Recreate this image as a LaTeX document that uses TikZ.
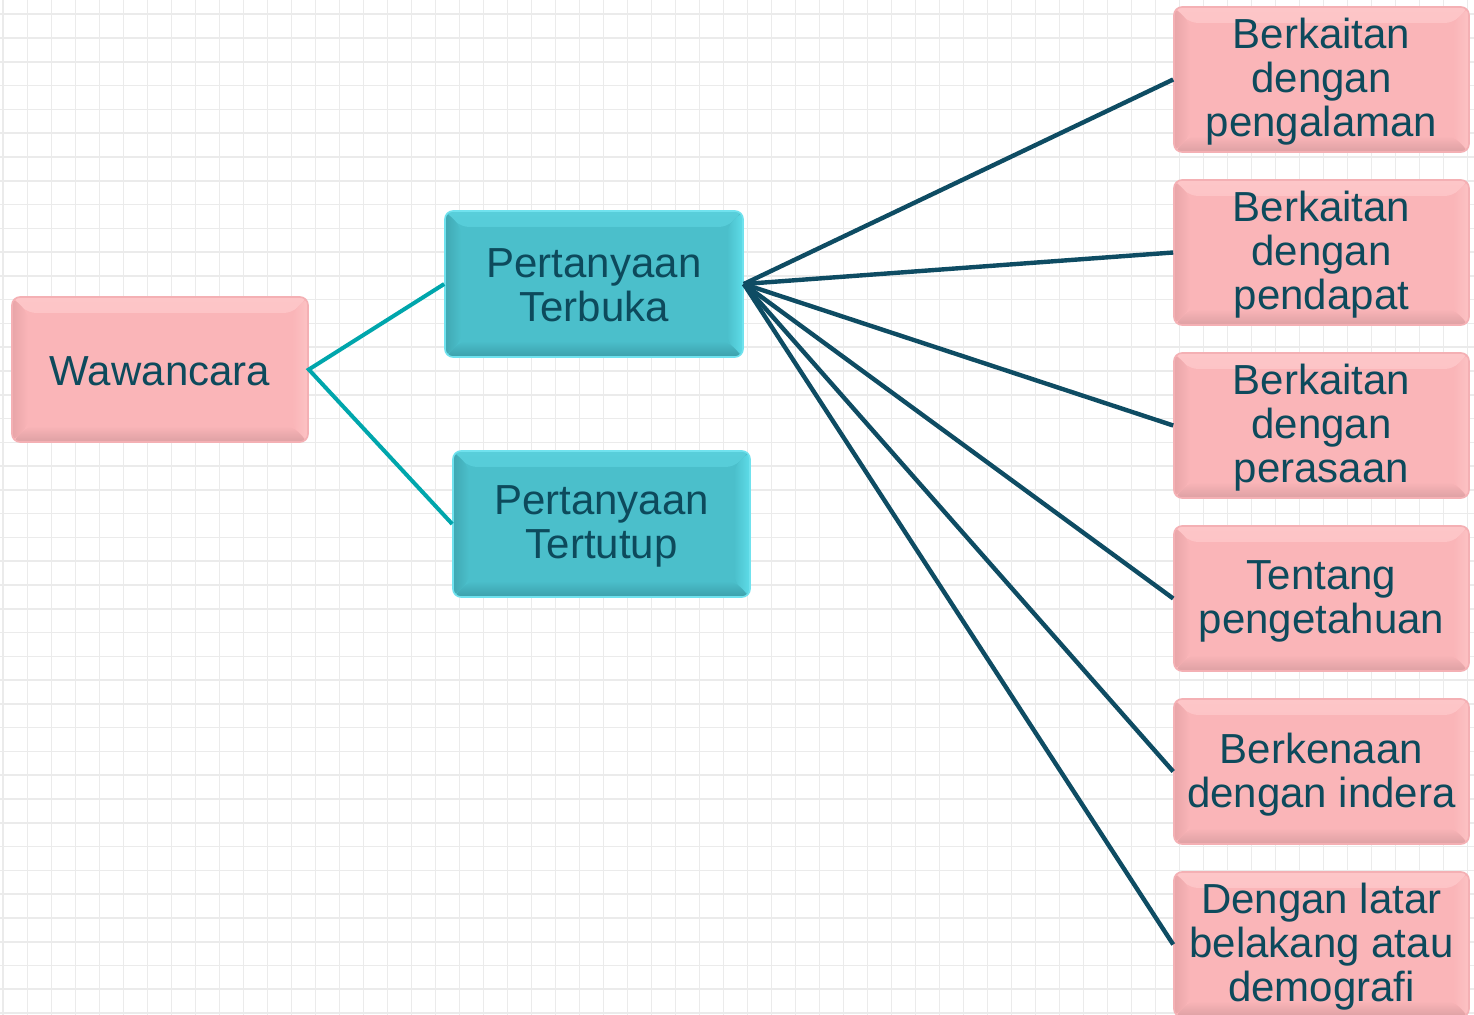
\documentclass[tikz,border=0pt]{standalone}
\usepackage{fontspec}
\setmainfont{Liberation Sans}
\definecolor{txt}{HTML}{0D4A5C}
\definecolor{pinkbase}{HTML}{FAB5B8}
\definecolor{pinktop}{HTML}{FDC6C8}
\definecolor{pinkright}{HTML}{FCC2C4}
\definecolor{pinkleft}{HTML}{E8A5A8}
\definecolor{pinkbot}{HTML}{DDA0A3}
\definecolor{pinkedge}{HTML}{F4B0B4}
\definecolor{tealbase}{HTML}{4BBFCB}
\definecolor{tealtop}{HTML}{58CEDA}
\definecolor{tealright}{HTML}{5EDCE8}
\definecolor{tealleft}{HTML}{40A8B3}
\definecolor{tealbot}{HTML}{3CA0AB}
\definecolor{tealedge}{HTML}{70E2EE}
\definecolor{linkteal}{HTML}{00A6AC}
\definecolor{linkdark}{HTML}{0E4C63}
\definecolor{gridc}{HTML}{EBEBEB}
\tikzset{
  bevel/.style n args={5}{path picture={
    \shade[top color=#1, bottom color=#5] (path picture bounding box.north west) -- (path picture bounding box.north east)
      -- ([shift={(-8pt,-8pt)}]path picture bounding box.north east) -- ([shift={(8pt,-8pt)}]path picture bounding box.north west) -- cycle;
    \shade[right color=#2, left color=#5] (path picture bounding box.north east) -- (path picture bounding box.south east)
      -- ([shift={(-8pt,8pt)}]path picture bounding box.south east) -- ([shift={(-8pt,-8pt)}]path picture bounding box.north east) -- cycle;
    \shade[bottom color=#3, top color=#5] (path picture bounding box.south west) -- (path picture bounding box.south east)
      -- ([shift={(-8pt,8pt)}]path picture bounding box.south east) -- ([shift={(8pt,8pt)}]path picture bounding box.south west) -- cycle;
    \shade[left color=#4, right color=#5] (path picture bounding box.north west) -- (path picture bounding box.south west)
      -- ([shift={(8pt,8pt)}]path picture bounding box.south west) -- ([shift={(8pt,-8pt)}]path picture bounding box.north west) -- cycle;
  }},
  boxbase/.style={rectangle, rounded corners=4pt, inner sep=0pt, align=center,
    text=txt, font=\fontsize{21pt}{22pt}\selectfont, line width=0.8pt},
  pinkbox/.style={boxbase, fill=pinkbase, draw=pinkedge,
    bevel={pinktop}{pinkright}{pinkbot}{pinkleft}{pinkbase}},
  tealbox/.style={boxbase, fill=tealbase, draw=tealedge,
    bevel={tealtop}{tealright}{tealbot}{tealleft}{tealbase}},
  gridline/.style={gridc, line width=0.8pt},
  tealink/.style={linkteal, line width=2pt},
  darklink/.style={linkdark, line width=2.2pt},
}
\begin{document}
\begin{tikzpicture}[x=0.5pt,y=-0.5pt]
\useasboundingbox (0,0) rectangle (1474,1015);
\fill[white] (0,0) rectangle (1474,1015);
\foreach \i in {0,...,61} \draw[gridline] ({3.3+24*\i},0) -- ({3.3+24*\i},1015);
\foreach \j in {0,...,42} \draw[gridline] (0,{14.3+23.78*\j}) -- (1474,{14.3+23.78*\j});

\node[pinkbox, minimum width=148pt, minimum height=72.5pt, text depth=0pt] (waw) at (160,369.5) {};
\node[text=txt, font=\fontsize{21pt}{22pt}\selectfont, align=center] (wawt) at (160,371) {Wawancara};
\node[tealbox, minimum width=149pt, minimum height=73pt] (terbuka) at (594,284) {};
\node[text=txt, font=\fontsize{21pt}{22pt}\selectfont, align=center] (terbukat) at (594,285.5) {Pertanyaan\\Terbuka};
\node[tealbox, minimum width=148.5pt, minimum height=73pt] (tertutup) at (601.5,524) {};
\node[text=txt, font=\fontsize{21pt}{22pt}\selectfont, align=center] (tertutupt) at (601.5,526) {Pertanyaan\\Tertutup};

\tikzset{rbox/.style={pinkbox, minimum width=147.5pt, minimum height=72.5pt},
  rtext/.style={text=txt, font=\fontsize{21pt}{22pt}\selectfont, align=center}}
\node[rbox] (r1) at (1321.5,79.5) {};
\node[rbox] (r2) at (1321.5,252.5) {};
\node[rbox] (r3) at (1321.5,425.5) {};
\node[rbox] (r4) at (1321.5,598.5) {};
\node[rbox] (r5) at (1321.5,771.5) {};
\node[rbox] (r6) at (1321.5,944.5) {};
\node[rtext] (t1) at (1321.5,82) {Berkaitan\\dengan\\pengalaman};
\node[rtext] (t2) at (1321.5,255) {Berkaitan\\dengan\\pendapat};
\node[rtext] (t3) at (1321.5,428) {Berkaitan\\dengan\\perasaan};
\node[rtext] (t4) at (1321.5,601.5) {Tentang\\pengetahuan};
\node[rtext] (t5) at (1321.5,774.5) {Berkenaan\\dengan indera};
\node[rtext] (t6) at (1321.5,947) {Dengan latar\\belakang atau\\demografi};

\draw[tealink] (terbuka.west) -- (waw.east) -- (tertutup.west);
\foreach \r in {r1,r2,r3,r4,r5,r6}
  \draw[darklink] (terbuka.east) -- (\r.west);
\end{tikzpicture}
\end{document}
